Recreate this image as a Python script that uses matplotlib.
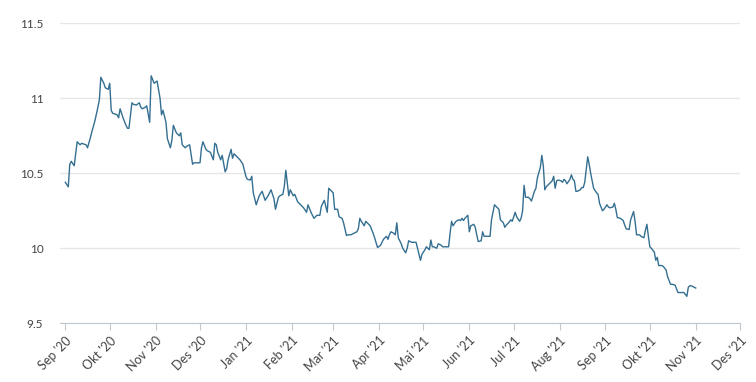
import matplotlib
matplotlib.use("Agg")
import matplotlib.pyplot as plt
import matplotlib.dates as mdates
import numpy as np
import pandas as pd

# data: days after 2020-09-01 and value
start_date = "2020-09-01"
day_offset = [
    0, 2, 3, 4, 6, 8, 10, 11, 14, 15, 17, 18, 20, 22, 23, 24, 26, 27, 29, 30,
    31, 32, 35, 36, 37, 39, 41, 42, 43, 45, 46, 48, 50, 51, 52, 54, 55, 57, 58, 60,
    62, 64, 65, 66, 68, 69, 71, 72, 73, 75, 77, 78, 79, 81, 82, 84, 86, 87, 89, 91,
    92, 93, 95, 96, 98, 100, 101, 102, 103, 105,
    106, 108, 109, 110, 112, 113, 114, 116, 118, 120, 122, 123, 125, 126, 127, 129,
    131, 133, 135, 137, 139, 141, 142, 144, 145, 147, 148, 149, 151, 152, 154, 155,
    157, 159, 161, 163, 164, 166, 168, 170, 172, 173, 175, 177, 178, 179, 181, 182,
    184, 185, 187, 188, 190, 191, 193, 195, 197, 198, 199, 200, 202, 203, 204, 206,
    208, 209, 211, 213,
    214, 215, 217, 218, 219, 220, 222, 223, 224, 225, 227, 228, 230, 231, 232, 234,
    236, 237, 238, 240, 241, 243, 244, 245, 246, 247, 248, 249, 251, 252, 254, 255,
    257, 259, 260, 261, 262, 264, 266, 267, 268, 269, 270, 272, 273, 274, 276, 277,
    278, 279, 281, 282, 283, 285, 287, 288, 290, 291, 293, 294, 296, 297, 298, 300,
    301, 302, 304, 305, 307, 308, 309, 310, 311, 313, 314, 315, 317, 318, 319, 321,
    322, 323, 324, 325, 326, 327, 329, 330, 331, 332, 333, 335, 336, 337, 338, 339,
    341, 342, 343, 344, 345, 346, 348, 349, 350, 351, 353, 354, 355, 356, 357, 359,
    360, 361, 363, 364, 366, 367, 368, 370, 371, 372, 373, 375, 377, 378, 379, 381,
    382, 384, 385, 386, 388, 389, 391, 392, 393, 394, 395, 396, 398, 399, 400, 401,
    403, 404, 406, 407, 409, 410, 412, 413, 414, 416, 417, 418, 420, 421, 422, 423,
    425, 426,
]
values = [
    10.44, 10.41, 10.56, 10.58, 10.55, 10.71, 10.69, 10.70, 10.69, 10.67, 10.74, 10.78, 10.85, 10.94, 10.99, 11.14, 11.10, 11.07, 11.06, 11.10,
    10.92, 10.90, 10.89, 10.87, 10.93, 10.87, 10.82, 10.80, 10.80, 10.97, 10.96, 10.955, 10.97, 10.94, 10.93, 10.94, 10.95, 10.84, 11.15, 11.10,
    11.115, 11.00, 10.89, 10.92, 10.84, 10.73, 10.67, 10.72, 10.82, 10.77, 10.75, 10.77, 10.69, 10.67, 10.68, 10.69, 10.56, 10.57, 10.57, 10.57,
    10.67, 10.71, 10.66, 10.65, 10.64, 10.59, 10.70, 10.69, 10.64, 10.59,
    10.62, 10.51, 10.53, 10.59, 10.66, 10.60, 10.63, 10.61, 10.59, 10.56, 10.48, 10.46, 10.455, 10.48, 10.37, 10.29,
    10.35, 10.38, 10.32, 10.35, 10.39, 10.33, 10.26, 10.34, 10.35, 10.36, 10.415, 10.52, 10.35, 10.39, 10.35, 10.36,
    10.31, 10.29, 10.27, 10.24, 10.29, 10.24, 10.20, 10.22, 10.22, 10.28, 10.32, 10.24, 10.40, 10.39, 10.37, 10.26,
    10.26, 10.21, 10.20, 10.17, 10.085, 10.09, 10.09, 10.10, 10.11, 10.13, 10.20, 10.18, 10.15, 10.18, 10.17, 10.15,
    10.10, 10.07, 10.005, 10.02,
    10.04, 10.06, 10.08, 10.06, 10.09, 10.11, 10.10, 10.09, 10.17, 10.07, 10.03, 10.00, 9.97, 10.00, 10.05, 10.04,
    10.04, 10.04, 10.00, 9.92, 9.96, 9.99, 10.01, 10.00, 9.99, 10.055, 10.01, 10.01, 10.00, 10.03, 10.02, 10.01,
    10.01, 10.01, 10.10, 10.18, 10.15, 10.18, 10.19, 10.185, 10.20, 10.185, 10.20, 10.22, 10.11, 10.15, 10.16, 10.14,
    10.09, 10.045, 10.05, 10.11, 10.08, 10.08, 10.08, 10.19, 10.29, 10.28, 10.26, 10.19, 10.17, 10.14, 10.155, 10.175,
    10.19, 10.18, 10.24, 10.21, 10.18, 10.20, 10.25, 10.42, 10.34, 10.34, 10.33, 10.315, 10.38, 10.40, 10.47, 10.54,
    10.62, 10.55, 10.39, 10.41, 10.42, 10.43, 10.45, 10.48, 10.40, 10.45, 10.455, 10.45, 10.44, 10.46, 10.45, 10.43,
    10.46, 10.49, 10.46, 10.45, 10.38, 10.38, 10.39, 10.405, 10.405, 10.44, 10.61, 10.56, 10.50, 10.45, 10.40, 10.37,
    10.36, 10.30, 10.25, 10.26, 10.29, 10.275, 10.27, 10.275, 10.30, 10.26, 10.205, 10.20, 10.185, 10.155, 10.13, 10.125,
    10.19, 10.245, 10.18, 10.09, 10.09, 10.08, 10.07, 10.12, 10.16, 10.08, 10.01, 10.00, 9.975, 9.92, 9.94, 9.885,
    9.885, 9.88, 9.855, 9.81, 9.76, 9.76, 9.755, 9.73, 9.705, 9.705, 9.705, 9.705, 9.68, 9.74, 9.75, 9.75,
    9.74, 9.735,
]

month_ticks = pd.date_range("2020-09-01", "2021-12-01", freq="MS")
month_labels = ["Sep '20", "Okt '20", "Nov '20", "Des '20", "Jan '21", "Feb '21",
                "Mar '21", "Apr '21", "Mai '21", "Jun '21", "Jul '21", "Aug '21",
                "Sep '21", "Okt '21", "Nov '21", "Des '21"]
y_ticks = [9.5, 10, 10.5, 11, 11.5]
y_labels = ["9.5", "10", "10.5", "11", "11.5"]

plt.rcParams['font.family'] = ['Lato', 'DejaVu Sans']

dates = pd.Timestamp(start_date) + pd.to_timedelta(day_offset, unit="D")

fig = plt.figure(figsize=(7.56, 3.82), dpi=100)
ax = fig.add_axes([0.0794, 0.1537, 0.8996, 0.7853])

ax.plot(dates, values, color="#346f91", lw=1.0)

ax.set_ylim(9.5, 11.5)
ax.set_xlim(pd.Timestamp("2020-08-28 10:00"), pd.Timestamp("2021-12-01"))
ax.set_yticks(y_ticks)
ax.set_yticklabels(y_labels)
ax.set_xticks(month_ticks)
ax.set_xticklabels(month_labels, rotation=45, ha="right", rotation_mode="anchor")

ax.grid(axis="y", color="#e6e6e6", lw=1)
ax.set_axisbelow(True)
for s in ["top", "right", "left"]:
    ax.spines[s].set_visible(False)
ax.spines["bottom"].set_color("#c0c8d0")
ax.tick_params(axis="y", length=0, pad=12, labelsize=8.5, labelcolor="#444444")
ax.tick_params(axis="x", length=5, color="#c0c8d0", pad=3, labelsize=9, labelcolor="#444444")

fig.savefig("out.png", dpi=100)
